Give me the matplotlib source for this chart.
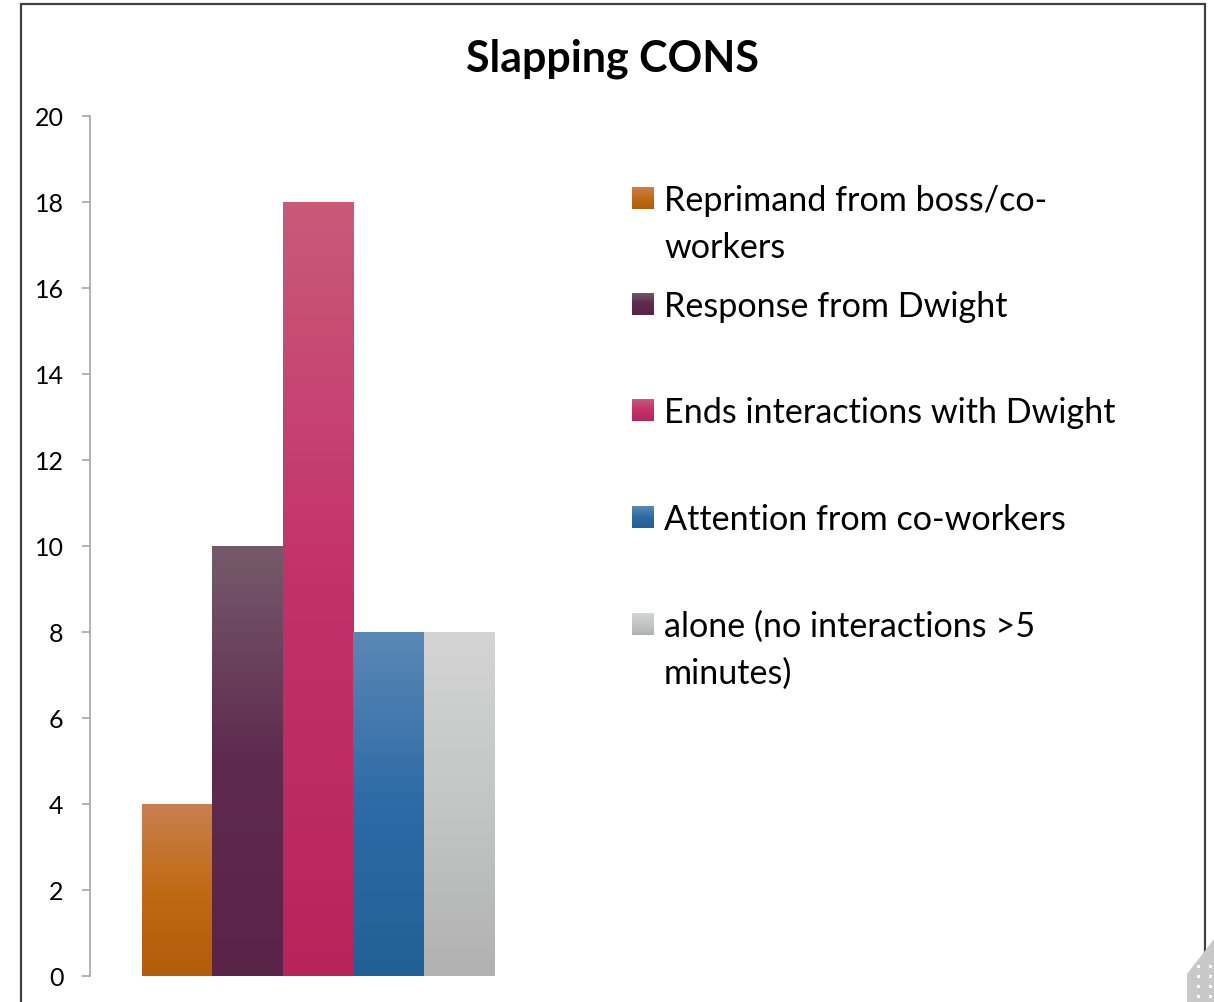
import matplotlib
matplotlib.use("Agg")
import matplotlib.pyplot as plt
import numpy as np
from matplotlib.colors import LinearSegmentedColormap
from matplotlib.patches import Rectangle, Polygon

# ---- data ----
title = "Slapping CONS"
categories = ["Reprimand from boss/co-\nworkers",
              "Response from Dwight",
              "Ends interactions with Dwight",
              "Attention from co-workers",
              "alone (no interactions >5\nminutes)"]
values = [4, 10, 18, 8, 8]
yticks = [0, 2, 4, 6, 8, 10, 12, 14, 16, 18, 20]
# gradient colours (top, middle, bottom)
grad_colors = [
    ["#C98050", "#C06A14", "#B35C0A"],
    ["#765A6C", "#5E2A4E", "#5A2448"],
    ["#C95A7A", "#C4306A", "#B8245A"],
    ["#5A88B5", "#2D6AA6", "#216096"],
    ["#D4D4D4", "#C4C5C5", "#B0B1B0"],
]

W, H = 1214, 1003
plt.rcParams['font.family'] = ['Lato', 'DejaVu Sans']
fig = plt.figure(figsize=(W / 100, H / 100), dpi=100)

def fx(px):
    return px / W

def fy(py):
    return 1 - py / H

ax = fig.add_axes([fx(90), fy(977), fx(546) - fx(90), fy(117) - fy(977)])
n = len(values)
x = np.arange(n) - (n - 1) / 2
bars = ax.bar(x, values, width=1.0, color="none", edgecolor="none")
grad = np.linspace(0, 1, 256).reshape(-1, 1)
for b, cols in zip(bars, grad_colors):
    cmap = LinearSegmentedColormap.from_list("g", [cols[2], cols[1], cols[0]])
    x0, y0 = b.get_x(), b.get_y()
    w, h = b.get_width(), b.get_height()
    im = ax.imshow(grad, cmap=cmap, extent=[x0, x0 + w, y0, y0 + h],
                   origin="lower", aspect="auto", zorder=2)
    im.set_clip_path(b)

ax.set_xlim(-3.24, 3.24)
ax.set_ylim(0, 20)
ax.set_yticks(yticks)
ax.set_xticks([])
for s in ["top", "right", "bottom"]:
    ax.spines[s].set_visible(False)
ax.spines["left"].set_color("#A6A6A6")
ax.spines["left"].set_linewidth(1.2)
ax.tick_params(axis="y", direction="out", length=6, width=1.2, color="#A6A6A6",
               labelsize=18, pad=13, labelcolor="black")

# title
fig.text(fx(612), fy(59), title, ha="center", va="center", fontsize=31,
         fontweight="bold")

# legend (manual, Excel-style)
entry_y = [199, 305, 411, 518, 625]
line_gap = 47
for lab, cols, yc in zip(categories, grad_colors, entry_y):
    pax = fig.add_axes([fx(632), fy(yc + 11), fx(654) - fx(632), fy(yc - 11) - fy(yc + 11)])
    cmap = LinearSegmentedColormap.from_list("g", [cols[2], cols[1], cols[0]])
    pax.imshow(grad, cmap=cmap, origin="lower", aspect="auto", extent=[0, 1, 0, 1])
    pax.set_axis_off()
    for i, line in enumerate(lab.split("\n")):
        fig.text(fx(664), fy(yc + 2 + i * line_gap), line, ha="left", va="center",
                 fontsize=24.6)

# chart border
fig.add_artist(Rectangle((fx(20.5), fy(1100)), fx(1205) - fx(20.5), fy(5) - fy(1100),
                         transform=fig.transFigure, fill=False, edgecolor="#404040",
                         linewidth=1.6, clip_on=False))

# decorative corner graphic
poly = [(fx(1187), fy(1003)), (fx(1187), fy(975)), (fx(1214), fy(940)), (fx(1214), fy(1003))]
fig.add_artist(Polygon(poly, closed=True, transform=fig.transFigure,
                       facecolor="#C8C8C8", edgecolor="none"))
for dx in [1198, 1210]:
    for dy in [967, 977, 987, 997]:
        fig.add_artist(Rectangle((fx(dx - 1.5), fy(dy + 1.5)), fx(3), fy(0) - fy(3),
                                 transform=fig.transFigure, facecolor="white",
                                 edgecolor="none"))

fig.savefig("out.png", dpi=100)
